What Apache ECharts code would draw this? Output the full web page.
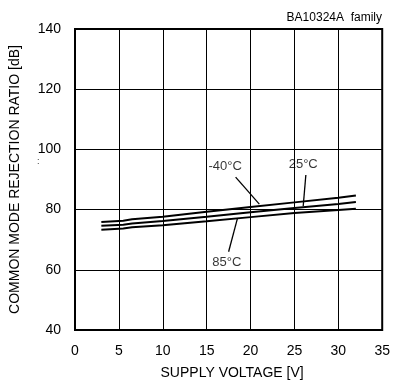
<!DOCTYPE html>
<html>
<head>
<meta charset="utf-8">
<script src="https://cdn.jsdelivr.net/npm/echarts@6/dist/echarts.min.js"></script>
<style>
html,body{margin:0;padding:0;background:#fff;}
#c{width:393px;height:389px;}
</style>
</head>
<body>
<div id="c"></div>
<script>
// Supply voltage [V]
var voltage = [3, 5.5, 6.5, 10, 15, 20, 25, 30, 32];
// CMRR [dB] per temperature
var cmrrM40 = [75.9, 76.3, 76.8, 77.6, 79.3, 80.9, 82.4, 83.9, 84.7];
var cmrr25  = [74.6, 75.0, 75.4, 76.2, 77.6, 79.1, 80.5, 81.9, 82.5];
var cmrr85  = [73.3, 73.7, 74.1, 74.8, 76.1, 77.5, 78.9, 79.9, 80.3];
var seriesNames = ['-40°C', '25°C', '85°C'];
// annotation text anchors [V, dB] and leader lines [[V,dB],[V,dB]]
var labelPos = [[17.1, 94.5], [26.0, 95.1], [17.3, 62.3]];
var leaders = [
  [[18.3, 90.8], [21.0, 81.8]],
  [[26.3, 91.5], [26.0, 81.2]],
  [[18.5, 77.0], [17.5, 66.0]]
];
var xTicks = [0, 5, 10, 15, 20, 25, 30, 35];
var yTicks = [40, 60, 80, 100, 120, 140];

function pairs(xs, ys) { return xs.map(function (x, i) { return [x, ys[i]]; }); }

var FONT = '"Liberation Sans", Arial, sans-serif';
var chart = echarts.init(document.getElementById('c'), null, {renderer: 'canvas'});

var series = [];
[cmrrM40, cmrr25, cmrr85].forEach(function (arr, i) {
  series.push({
    name: seriesNames[i], type: 'line', data: pairs(voltage, arr),
    showSymbol: false, symbol: 'none', smooth: false,
    lineStyle: {color: '#000', width: 2}, silent: true, z: 5
  });
});
leaders.forEach(function (ld) {
  series.push({
    type: 'line', data: ld, showSymbol: false, symbol: 'none',
    lineStyle: {color: '#000', width: 1.3}, silent: true, z: 6
  });
});
series.push({
  type: 'scatter', symbolSize: 0, silent: true, z: 7,
  data: labelPos.map(function (p, i) { return {value: p, name: seriesNames[i]}; }),
  label: {show: true, position: 'inside', formatter: '{b}', color: '#000',
    fontSize: 13, fontFamily: FONT}
});

chart.setOption({
  animation: false,
  backgroundColor: '#fff',
  title: {
    text: 'BA10324A  family', right: 6, top: 7,
    textStyle: {fontSize: 12, fontWeight: 'normal', color: '#000', fontFamily: FONT}
  },
  grid: {left: 72.5, right: 9, top: 29, bottom: 59, show: true,
    borderColor: '#000', borderWidth: 2, backgroundColor: 'transparent'},
  xAxis: {
    type: 'value', min: xTicks[0], max: xTicks[xTicks.length - 1], interval: 5,
    name: 'SUPPLY VOLTAGE [V]', nameLocation: 'middle', nameGap: 36,
    nameTextStyle: {fontSize: 14, color: '#000', fontFamily: FONT, padding: [0, 0, 0, 7]},
    axisLine: {show: false}, axisTick: {show: false},
    axisLabel: {fontSize: 14, color: '#000', fontFamily: FONT, margin: 14},
    splitLine: {show: true, lineStyle: {color: '#000', width: 1}}
  },
  yAxis: {
    type: 'value', min: yTicks[0], max: yTicks[yTicks.length - 1], interval: 20,
    name: 'COMMON MODE REJECTION RATIO [dB]', nameLocation: 'middle', nameGap: 53,
    nameTextStyle: {fontSize: 14, color: '#000', fontFamily: FONT},
    axisLine: {show: false}, axisTick: {show: false},
    axisLabel: {fontSize: 14, color: '#000', fontFamily: FONT, margin: 14},
    splitLine: {show: true, lineStyle: {color: '#000', width: 1}}
  },
  graphic: [{
    type: 'text', left: 37, top: 157,
    style: {text: ':', fontSize: 9, fill: '#333', fontFamily: FONT}
  }],
  series: series
});
</script>
</body>
</html>
